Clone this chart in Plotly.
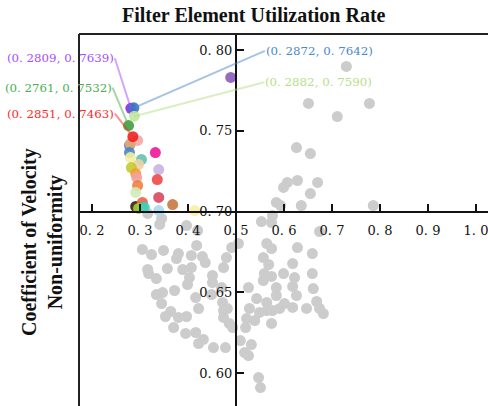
import plotly.graph_objects as go

# ---------------- data ----------------
gray_x = [0.730, 0.651, 0.778, 0.711, 0.626, 0.655, 0.607, 0.599, 0.628, 0.670,
          0.655, 0.584, 0.593, 0.636, 0.786, 0.576, 0.553, 0.574, 0.674,
          0.305, 0.324, 0.349, 0.380, 0.376, 0.407, 0.418, 0.430, 0.436, 0.316,
          0.318, 0.357, 0.389, 0.407, 0.334, 0.403, 0.399, 0.451, 0.451, 0.474,
          0.480, 0.491, 0.505, 0.334, 0.347, 0.372, 0.345, 0.416, 0.422, 0.449,
          0.472, 0.470, 0.474, 0.353, 0.364, 0.380, 0.397, 0.370, 0.395, 0.416,
          0.432, 0.422, 0.453, 0.478, 0.474, 0.486, 0.493, 0.482, 0.509, 0.532,
          0.518, 0.526, 0.547, 0.551, 0.564, 0.574, 0.557, 0.568, 0.559, 0.557,
          0.574, 0.599, 0.618, 0.628, 0.659, 0.659, 0.622, 0.618, 0.584, 0.526,
          0.584, 0.626, 0.661, 0.668, 0.674, 0.682, 0.647, 0.618, 0.601, 0.591,
          0.564, 0.564, 0.549, 0.543, 0.528, 0.522, 0.539, 0.574, 0.520, 0.576,
          0.316, 0.345, 0.341, 0.397, 0.420]
gray_y = [0.7898, 0.7669, 0.7669, 0.7588, 0.7396, 0.7359, 0.7180, 0.7149, 0.7192, 0.7180,
          0.7111, 0.7056, 0.7037, 0.7037, 0.7037, 0.6975, 0.6938, 0.6932, 0.6876,
          0.6765, 0.6734, 0.6759, 0.6740, 0.6709, 0.6728, 0.6790, 0.6721, 0.6684, 0.6641,
          0.6616, 0.6647, 0.6641, 0.6653, 0.6585, 0.6591, 0.6548, 0.6604, 0.6560, 0.6653,
          0.6715, 0.6777, 0.6802, 0.6486, 0.6498, 0.6511, 0.6430, 0.6467, 0.6399, 0.6486,
          0.6437, 0.6529, 0.6387, 0.6350, 0.6381, 0.6344, 0.6350, 0.6282, 0.6245, 0.6251,
          0.6208, 0.6183, 0.6158, 0.6158, 0.6344, 0.6307, 0.6282, 0.6399, 0.6201, 0.6176,
          0.6127, 0.6108, 0.5972, 0.5910, 0.6802, 0.6771, 0.6715, 0.6672, 0.6616, 0.6573,
          0.6598, 0.6616, 0.6678, 0.6777, 0.6740, 0.6616, 0.6591, 0.6536, 0.6529, 0.6529,
          0.6480, 0.6480, 0.6523, 0.6443, 0.6400, 0.6368, 0.6400, 0.6406, 0.6430, 0.6400,
          0.6437, 0.6387, 0.6375, 0.6461, 0.6400, 0.6337, 0.6325, 0.6307, 0.6282, 0.6387,
          0.6988, 0.6957, 0.6920, 0.6913, 0.6882]

col_x = [0.295, 0.278, 0.280, 0.278, 0.332, 0.280, 0.303, 0.297, 0.282, 0.291,
         0.293, 0.339, 0.336, 0.295, 0.291, 0.339, 0.291, 0.305, 0.305, 0.297,
         0.309, 0.368, 0.339, 0.414, 0.489]
col_y = [0.7440, 0.7409, 0.7421, 0.7365, 0.7365, 0.7334, 0.7322, 0.7291, 0.7272, 0.7235,
         0.7211, 0.7260, 0.7198, 0.7161, 0.7118, 0.7087, 0.7031, 0.7056, 0.7025, 0.7019,
         0.7025, 0.7043, 0.7006, 0.7006, 0.7830]
col_c = ["#f4a6a6", "#6a7fc0", "#e8a870", "#4a86c0", "#f0169a", "#f5f0a0", "#66c2b0",
         "#ecd3a6", "#c8c832", "#f0a030", "#f4a0a0", "#c8b4e0", "#f04848", "#f08040",
         "#d0ecb8", "#d84860", "#3a2010", "#f06048", "#30c060", "#a0d030", "#40d0c0",
         "#c87840", "#a8d8f0", "#f8f0a0", "#8a5cb8"]

hl_x = [0.2809, 0.2761, 0.2851, 0.2872, 0.2882]
hl_y = [0.7639, 0.7532, 0.7463, 0.7642, 0.7590]
hl_c = ["#a64dff", "#4caf50", "#ff2a2a", "#4a8ac8", "#b5e08a"]
hl_dot = ["#8a2be2", "#3fa03f", "#ee2222", "#3b75c4", "#c0e6a0"]

x_ticks = [0.2, 0.3, 0.4, 0.5, 0.6, 0.7, 0.8, 0.9, 1.0]
x_ticktext = ["0. 2", "0. 3", "0. 4", "0. 5", "0. 6", "0. 7", "0. 8", "0. 9", "1. 0"]
y_ticks = [0.60, 0.65, 0.70, 0.75, 0.80]
y_ticktext = ["0. 60", "0. 65", "0. 70", "0. 75", "0. 80"]

# ---------------- layout constants ----------------
XR = [0.1729, 1.025]
YR = [0.5796, 0.8099]
X_CROSS = 0.5
Y_CROSS = 0.70
tick_font = dict(family="DejaVu Serif", size=13, color="#111")

fig = go.Figure()
fig.add_trace(go.Scatter(x=gray_x, y=gray_y, mode="markers",
                         marker=dict(size=11, color="#cccccc", line=dict(width=0)),
                         showlegend=False))
fig.add_trace(go.Scatter(x=col_x, y=col_y, mode="markers",
                         marker=dict(size=11, color=col_c, opacity=0.9, line=dict(width=0)),
                         showlegend=False))
fig.add_trace(go.Scatter(x=hl_x, y=hl_y, mode="markers",
                         marker=dict(size=11, color=hl_dot, opacity=0.9, line=dict(width=0)),
                         showlegend=False))

def rgba(h, a):
    h = h.lstrip("#")
    return "rgba(%d,%d,%d,%.2f)" % (int(h[0:2], 16), int(h[2:4], 16), int(h[4:6], 16), a)

# label offsets (pixels) and anchors
offs = [(-16, -50, "right"), (-16, -38, "right"), (-18, -23, "right"),
        (131, -57, "left"), (130, -34, "left")]
for xv, yv, c, (ax, ay, anc) in zip(hl_x, hl_y, hl_c, offs):
    fig.add_annotation(x=xv, y=yv, xref="x", yref="y",
                       text="(%s, %s)" % (("%.4f" % xv).replace(".", ". "),
                                          ("%.4f" % yv).replace(".", ". ")),
                       showarrow=True, arrowhead=0, arrowwidth=2,
                       arrowcolor=rgba(c, 0.5), ax=ax, ay=ay,
                       xanchor=anc, yanchor="middle", borderpad=0,
                       standoff=0, startstandoff=0,
                       font=dict(family="DejaVu Serif", size=11.8, color=c))

fig.update_layout(
    width=488, height=406,
    margin=dict(l=79, r=0, t=34, b=0),
    plot_bgcolor="white", paper_bgcolor="white",
    showlegend=False,
    xaxis=dict(range=XR, anchor="free",
               position=(Y_CROSS - YR[0]) / (YR[1] - YR[0]),
               showgrid=False, zeroline=False, showline=True, linecolor="#111", linewidth=2,
               ticks="inside", ticklen=7, tickwidth=1.5, tickcolor="#111",
               ticklabelstandoff=7, ticklabeloverflow="allow",
               tickvals=x_ticks, ticktext=x_ticktext, tickfont=tick_font),
    yaxis=dict(range=YR, anchor="free",
               position=(X_CROSS - XR[0]) / (XR[1] - XR[0]),
               showgrid=False, zeroline=False, showline=True, linecolor="#111", linewidth=2,
               ticks="inside", ticklen=7, tickwidth=1.5, tickcolor="#111",
               ticklabeloverflow="allow",
               tickvals=y_ticks, ticktext=y_ticktext, tickfont=tick_font),
    shapes=[
        dict(type="line", xref="paper", yref="paper", x0=0, x1=0, y0=0, y1=1,
             line=dict(color="#222", width=2)),
        dict(type="line", xref="paper", yref="paper", x0=0, x1=1, y0=1, y1=1,
             line=dict(color="#222", width=2)),
    ],
)

fig.add_annotation(xref="paper", yref="paper", x=(253.5 - 79) / 409, y=1 + (34 - 15) / 372,
                   text="<b>Filter Element Utilization Rate</b>", showarrow=False,
                   xanchor="center", yanchor="middle",
                   font=dict(family="Liberation Serif", size=20, color="#111"))
fig.add_annotation(xref="paper", yref="paper", x=(43 - 79) / 409, y=(406 - 242) / 372,
                   text="<b>Coefficient of Velocity<br>Non-uniformity</b>", showarrow=False,
                   textangle=-90, xanchor="center", yanchor="middle",
                   font=dict(family="Liberation Serif", size=20, color="#111"))

fig.write_html("out.html")
